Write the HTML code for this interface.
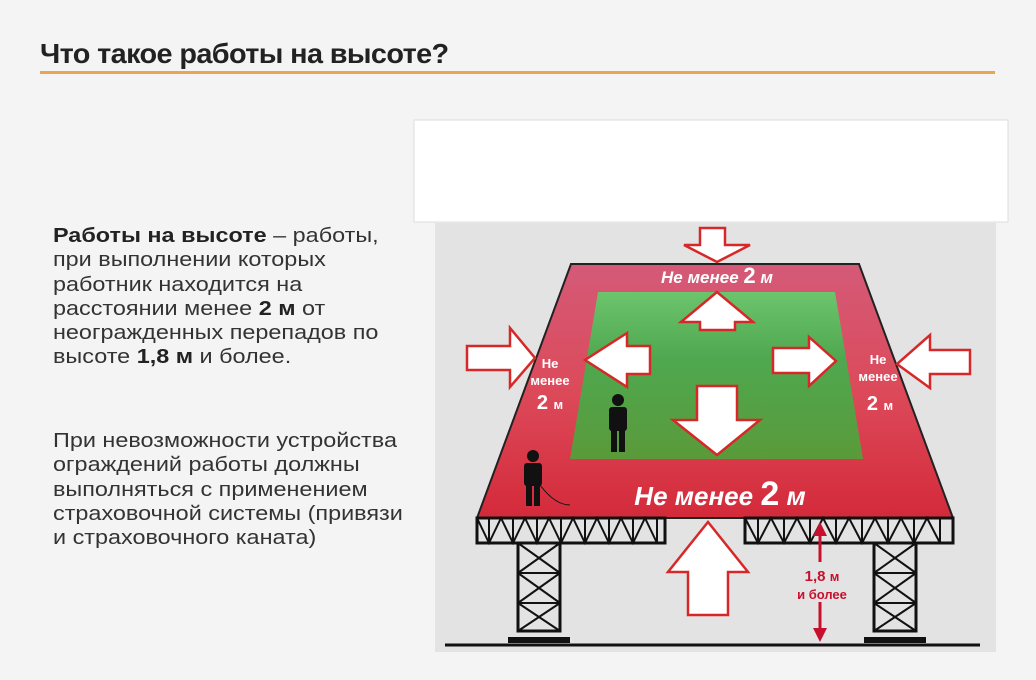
<!DOCTYPE html>
<html><head><meta charset="utf-8"><style>
body{margin:0;width:1036px;height:680px;background:#f4f4f4;position:relative;overflow:hidden;font-family:"Liberation Sans",sans-serif;}
.t{position:absolute;left:40px;top:38px;font-size:28px;font-weight:bold;color:#222;letter-spacing:-0.6px;transform:scaleX(1.03);transform-origin:left;white-space:nowrap;}
.hr{position:absolute;left:40px;top:71px;width:955px;height:3px;background:#e8a552;}
.p{position:absolute;left:53px;font-size:20px;line-height:24.3px;color:#333;white-space:nowrap;transform:scaleX(1.17);transform-origin:left;}
</style></head><body>
<div class="t">Что такое работы на высоте?</div>
<div class="hr"></div>
<div class="p" style="top:224px"><b style="color:#222">Работы на высоте</b> – работы,<br>при выполнении которых<br>работник находится на<br>расстоянии менее <b style="color:#222">2 м</b> от<br>неогражденных перепадов по<br>высоте <b style="color:#222">1,8 м</b> и более.</div>
<div class="p" style="top:429px">При невозможности устройства<br>ограждений работы должны<br>выполняться с применением<br>страховочной системы (привязи<br>и страховочного каната)</div>
<svg style="position:absolute;left:0;top:0" width="1036" height="680" font-family="Liberation Sans, sans-serif">
<rect x="414" y="120" width="594" height="102" fill="#fff" stroke="#ddd"/>
<rect x="435" y="223" width="561" height="429" fill="#e3e3e3"/>
<defs><linearGradient id="g" x1="0" y1="0" x2="0" y2="1"><stop offset="0" stop-color="#6cc46c"/><stop offset="0.4" stop-color="#4fa84f"/><stop offset="1" stop-color="#5a9a3a"/></linearGradient>
<linearGradient id="r" x1="0" y1="0" x2="0" y2="1"><stop offset="0" stop-color="#d45a78"/><stop offset="0.5" stop-color="#dc4a5a"/><stop offset="1" stop-color="#d42a3a"/></linearGradient></defs>
<polygon points="571,264 859,264 953,518 477,518" fill="url(#r)" stroke="#222" stroke-width="2"/>
<polygon points="598,292 835,292 863,459 570,459" fill="url(#g)"/>
<g fill="#fff" font-weight="bold" font-style="italic">
<text x="717" y="283" text-anchor="middle" font-size="17">Не менее <tspan font-size="22" font-style="normal">2</tspan> м</text>
<text x="720" y="505" text-anchor="middle" font-size="26">Не менее <tspan font-size="34" font-style="normal">2</tspan> м</text>
</g>
<g fill="#fff" font-weight="bold" font-size="13" text-anchor="middle">
<text x="550" y="368">Не</text><text x="550" y="385">менее</text><text x="550" y="409" font-size="20">2 <tspan font-size="13">м</tspan></text>
<text x="878" y="364">Не</text><text x="878" y="381">менее</text><text x="880" y="410" font-size="20">2 <tspan font-size="13">м</tspan></text>
</g>
<g fill="#fff" stroke="#d62828" stroke-width="2.5" stroke-linejoin="miter">
<polygon points="700,228 725,228 725,245 750,245 717,262 684,245 700,245"/>
<polygon points="700,330 735,330 735,322 753,322 717,292 681,322 700,322"/>
<polygon points="697,386 737,386 737,420 760,420 717,455 673,420 697,420"/>
<polygon points="650,346 650,374 627,374 627,387 585,360 627,333 627,346" />
<polygon points="773,348 809,348 809,337 836,361 809,386 809,373 773,373"/>
<polygon points="467,346 510,346 510,328 535,358 510,387 510,370 467,370"/>
<polygon points="970,350 930,350 930,335 897,364 930,388 930,374 970,374"/>
<polygon points="688,615 728,615 728,572 748,572 708,522 668,572 688,572"/>
</g>
<g fill="#111">
<circle cx="618" cy="400" r="6"/><rect x="609" y="407" width="18" height="24" rx="3"/><rect x="611" y="428" width="6" height="24"/><rect x="619" y="428" width="6" height="24"/>
<circle cx="533" cy="456" r="6"/><rect x="524" y="463" width="18" height="23" rx="3"/><rect x="526" y="484" width="6" height="22"/><rect x="534" y="484" width="6" height="22"/>
</g>
<path d="M540,485 Q555,505 570,505" stroke="#111" fill="none"/>
<g stroke="#111" stroke-width="3" fill="none">
<rect x="477" y="518" width="188" height="25"/><rect x="745" y="518" width="208" height="25"/>
<path d="M477,518 l12,25 l12,-25 l12,25 l12,-25 l12,25 l12,-25 l12,25 l12,-25 l12,25 l12,-25 l12,25 l12,-25 l12,25 l12,-25 l12,25 M489,518v25M513,518v25M537,518v25M561,518v25M585,518v25M609,518v25M633,518v25M657,518v25" stroke-width="2"/>
<path d="M745,518 l13,25 l13,-25 l13,25 l13,-25 l13,25 l13,-25 l13,25 l13,-25 l13,25 l13,-25 l13,25 l13,-25 l13,25 l13,-25 l13,25 M758,518v25M784,518v25M810,518v25M836,518v25M862,518v25M888,518v25M914,518v25M940,518v25" stroke-width="2"/>
<rect x="518" y="543" width="42" height="88"/><rect x="874" y="543" width="42" height="88"/>
<path d="M518,543 L560,573 M560,543 L518,573 M518,573 L560,603 M560,573 L518,603 M518,603 L560,631 M560,603 L518,631 M518,573H560M518,603H560" stroke-width="2"/>
<path d="M874,543 L916,573 M916,543 L874,573 M874,573 L916,603 M916,573 L874,603 M874,603 L916,631 M916,603 L874,631 M874,573H916M874,603H916" stroke-width="2"/>
<path d="M445,645 H980" stroke-width="3"/>
<path d="M508,640H570M864,640H926" stroke-width="6"/>
</g>
<g fill="#c8102e" stroke="#c8102e">
<line x1="820" y1="532" x2="820" y2="562" stroke-width="3"/><line x1="820" y1="602" x2="820" y2="632" stroke-width="3"/>
<polygon points="820,522 813,536 827,536" stroke="none"/><polygon points="820,642 813,628 827,628" stroke="none"/>
</g>
<g fill="#c8102e" font-weight="bold" text-anchor="middle"><text x="822" y="581" font-size="15">1,8 <tspan font-size="13">м</tspan></text><text x="822" y="599" font-size="13">и более</text></g>
</svg>
</body></html>
